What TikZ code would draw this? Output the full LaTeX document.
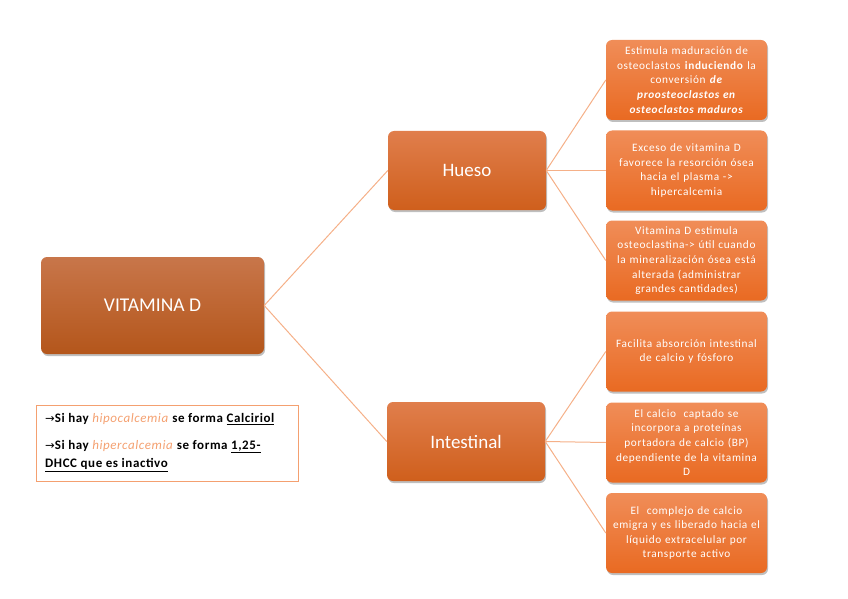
\documentclass[tikz,border=0pt]{standalone}
\usepackage{fontspec}
\setmainfont{Carlito}
\newfontfamily\leaffont[LetterSpace=5.5]{Carlito}
\newfontfamily\legfont[LetterSpace=4.5]{Carlito}
\newfontfamily\arrowfont{DejaVu Sans}
\usetikzlibrary{shadows}
\definecolor{linec}{HTML}{F5B088}
\definecolor{vtop}{HTML}{C8764A}
\definecolor{vbot}{HTML}{B4561B}
\definecolor{mtop}{HTML}{E07E4C}
\definecolor{mbot}{HTML}{CF5F1C}
\definecolor{rtop}{HTML}{F08D58}
\definecolor{rbot}{HTML}{E96A22}
\definecolor{legc}{HTML}{F4A070}
\tikzset{
  basebox/.style={rounded corners=6pt, text=white, align=center, inner sep=2pt,
    drop shadow={shadow xshift=1pt, shadow yshift=-2pt, fill=black, opacity=0.25}},
  mainbox/.style={basebox, minimum width=223pt, minimum height=97pt, top color=vtop, bottom color=vbot, font=\fontsize{19.5}{22}\selectfont},
  midbox/.style={basebox, minimum width=158pt, minimum height=79pt, top color=mtop, bottom color=mbot, font=\fontsize{19}{22}\selectfont},
  leafbox/.style={basebox, minimum width=159pt, minimum height=80pt, text width=157pt, top color=rtop, bottom color=rbot, font=\leaffont\fontsize{11.3}{14.6}\selectfont},
  conn/.style={draw=linec, line width=1pt},
}
\newcommand{\rarr}{{\arrowfont\mdseries\fontsize{11.5}{11}\selectfont →}}
\begin{document}
\begin{tikzpicture}[x=1pt,y=-1pt]
\useasboundingbox (0,0) rectangle (848,599);
\node[mainbox] (vit) at (152.5,305.5) {VITAMINA D};
\node[midbox] (hueso) at (467,170.5) {Hueso};
\node[midbox] (inte) at (466,441.5) {Intestinal};

\node[leafbox] (b1) at (686.5,80) {Estimula maduración de\\osteoclastos \textbf{induciendo} la\\conversión \textbf{\textit{de}}\\\textbf{\textit{proosteoclastos en}}\\\textbf{\textit{osteoclastos maduros}}};
\node[leafbox] (b2) at (686.5,170.5) {Exceso de vitamina D\\favorece la resorción ósea\\hacia el plasma ->\\hipercalcemia};
\node[leafbox] (b3) at (686.5,260.5) {Vitamina D estimula\\osteoclastina-> útil cuando\\la mineralización ósea está\\alterada (administrar\\grandes cantidades)};
\node[leafbox] (b4) at (686.5,351.5) {Facilita absorción intestinal\\de calcio y fósforo};
\node[leafbox] (b5) at (686.5,442.5) {El calcio\ \ captado se\\incorpora a proteínas\\portadora de calcio (BP)\\dependiente de la vitamina\\D};
\node[leafbox] (b6) at (686.5,533) {El\ \ complejo de calcio\\emigra y es liberado hacia el\\líquido extracelular por\\transporte activo};

\draw[conn] (vit.east) -- (hueso.west);
\draw[conn] (vit.east) -- (inte.west);
\foreach \b in {b1,b2,b3} \draw[conn] (hueso.east) -- (\b.west);
\foreach \b in {b4,b5,b6} \draw[conn] (inte.east) -- (\b.west);

\node[draw=legc, line width=1pt, minimum width=262pt, minimum height=76pt, anchor=north west, inner sep=0pt] (leg) at (36,405) {};
\node[anchor=north west, align=left, inner sep=0pt, font=\legfont\bfseries\fontsize{13}{18}\selectfont] (legtext) at (45,413) {\rarr Si hay \textcolor{legc}{\textit{\mdseries hipocalcemia}} se forma \underline{Calciriol}\\[9pt]
\rarr Si hay \textcolor{legc}{\textit{\mdseries hipercalcemia}} se forma \underline{1,25-}\\\underline{DHCC que es inactivo}};
\end{tikzpicture}
\end{document}
